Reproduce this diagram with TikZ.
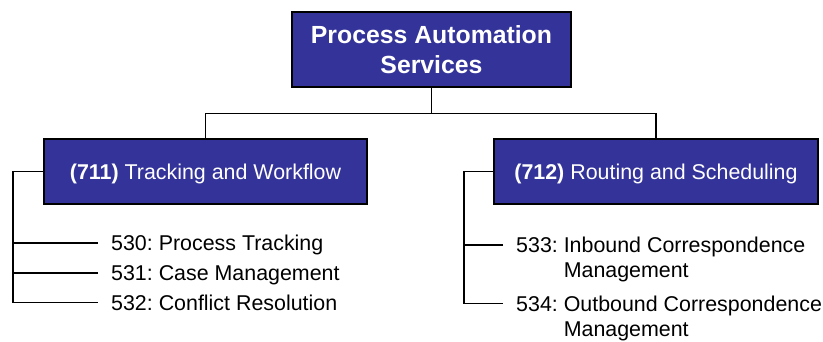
\documentclass[tikz,border=0pt]{standalone}
\usepackage{fontspec}
\setmainfont{Liberation Sans}
\frenchspacing
\definecolor{boxblue}{HTML}{333399}
\begin{document}
\begin{tikzpicture}[x=1pt,y=-1pt,
  bluebox/.style={draw=black, line width=1.3pt, fill=boxblue, text=white, inner sep=0pt, align=center},
  conn/.style={draw=black, line width=1.5pt},
  leaf/.style={inner sep=0pt, align=left, font=\fontsize{21.4}{25}\selectfont}]
\useasboundingbox (0,0) rectangle (823,341);
\node[bluebox, minimum width=279pt, minimum height=75pt, font=\fontsize{24.8}{30}\selectfont\bfseries]
  (top) at (431.5,49.5) {Process Automation\\Services};
\node[bluebox, minimum width=323pt, minimum height=65pt, text height=15.3pt, text depth=0pt,
  font=\fontsize{21.4}{25}\selectfont] (left) at (205.5,171.5) {\textbf{(711)} Tracking and Workflow};
\node[bluebox, minimum width=324pt, minimum height=65pt, text height=15.3pt, text depth=0pt,
  font=\fontsize{21.4}{25}\selectfont] (right) at (656,171.5) {\textbf{(712)} Routing and Scheduling};
% left children
\node[leaf, anchor=base west] (c530) at (111,250.7) {530: Process Tracking};
\node[leaf, anchor=base west] (c531) at (111,280.7) {531: Case Management};
\node[leaf, anchor=base west] (c532) at (111,310) {532: Conflict Resolution};
\coordinate (lspine) at (13,302.3);
% right children (base anchor = baseline of the last line)
\node[leaf, anchor=base west] (c533) at (516,277.7) {533: Inbound Correspondence\\\hphantom{533: }Management};
\coordinate (rspine) at (464,303.5);
\node[leaf, anchor=base west] (c534) at (516,336.7) {534: Outbound Correspondence\\\hphantom{534: }Management};
% connectors
\draw[conn] (top.south) -- ++(0,26) -| (left.north);
\draw[conn] (top.south) ++(0,26) -| (right.north);
\draw[conn] (left.west) -| (lspine) -- ([xshift=-13pt,yshift=7.7pt]c532.base west);
\draw[conn] ([xshift=-13pt,yshift=7.7pt]c530.base west) -- ++(-86,0);
\draw[conn] ([xshift=-13pt,yshift=7.7pt]c531.base west) -- ++(-86,0);
\draw[conn] (right.west) -| (rspine) -- ++(39,0);
\draw[conn] ([xshift=-13pt,yshift=32.7pt]c533.base west) -- ++(-39,0);
\end{tikzpicture}
\end{document}
